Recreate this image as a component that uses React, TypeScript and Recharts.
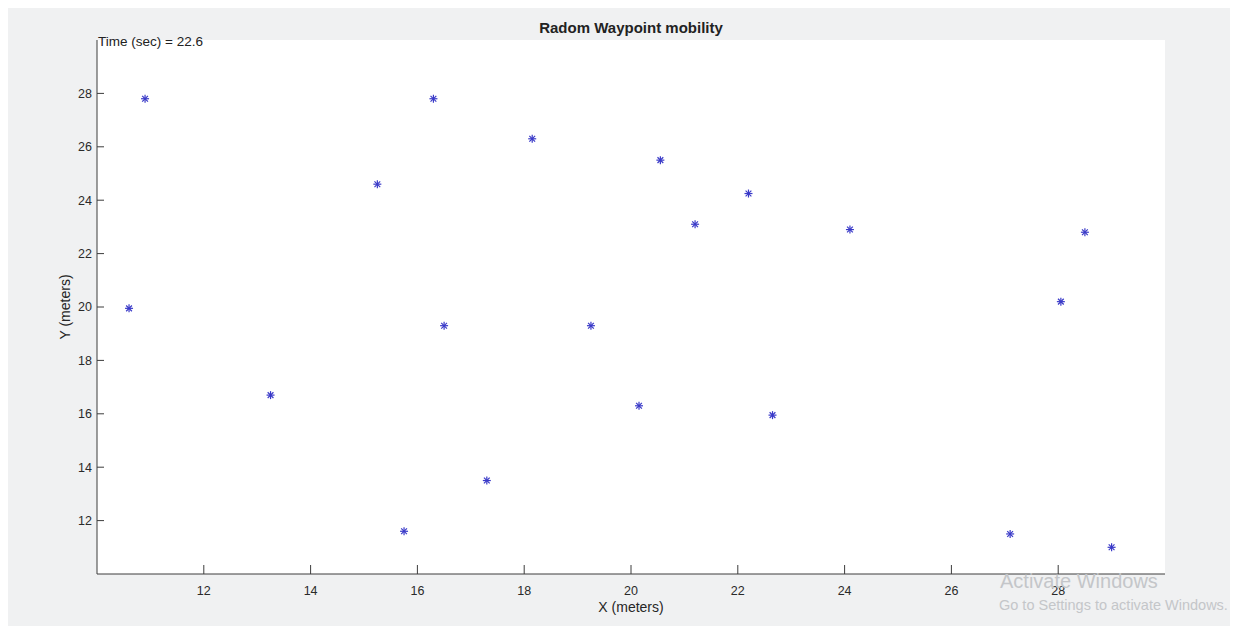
import React from "react";
import { ScatterChart, Scatter, XAxis, YAxis, CartesianGrid } from "recharts";

// node positions (meters)
const xPos = [10.6, 10.9, 13.25, 15.25, 15.75, 16.3, 16.5, 17.3, 18.15, 19.25, 20.15, 20.55, 21.2, 22.2, 22.65, 24.1, 27.1, 28.05, 28.5, 29.0];
const yPos = [19.95, 27.8, 16.7, 24.6, 11.6, 27.8, 19.3, 13.5, 26.3, 19.3, 16.3, 25.5, 23.1, 24.25, 15.95, 22.9, 11.5, 20.2, 22.8, 11.0];
const xTicks = [12, 14, 16, 18, 20, 22, 24, 26, 28];
const yTicks = [12, 14, 16, 18, 20, 22, 24, 26, 28];
const timeSec = 22.6;

const nodes = xPos.map((x, i) => ({ x, y: yPos[i] }));

const font = "'Liberation Sans', Arial, sans-serif";

// matlab style '*' marker
const Star = (props: any) => {
  const { cx, cy } = props;
  const r = 4;
  const d = r * 0.72;
  return (
    <g stroke="#3a3ac8" strokeWidth={1.2}>
      <line x1={cx - r} y1={cy} x2={cx + r} y2={cy} />
      <line x1={cx} y1={cy - r} x2={cx} y2={cy + r} />
      <line x1={cx - d} y1={cy - d} x2={cx + d} y2={cy + d} />
      <line x1={cx - d} y1={cy + d} x2={cx + d} y2={cy - d} />
    </g>
  );
};

const App = () => (
  <div style={{ position: "relative", width: 1240, height: 620, background: "#f0f1f2", fontFamily: font }}>
    <style>{"html, body { overflow: hidden; }"}</style>
    <ScatterChart width={1230} height={610} margin={{ top: 32, right: 73, bottom: 4, left: 39 }}>
      <CartesianGrid horizontal={false} vertical={false} fill="#ffffff" />
      <XAxis
        type="number"
        dataKey="x"
        domain={[10, 30]}
        ticks={xTicks}
        allowDataOverflow
        height={40}
        tickSize={-9}
        tickMargin={21}
        stroke="#3c3c3c"
        tick={{ fill: "#2a2a2a", fontSize: 12.5, fontFamily: font }}
      />
      <YAxis
        type="number"
        dataKey="y"
        domain={[10, 30]}
        ticks={yTicks}
        allowDataOverflow
        width={50}
        tickSize={-7}
        tickMargin={12}
        stroke="#3c3c3c"
        tick={{ fill: "#2a2a2a", fontSize: 12.5, fontFamily: font }}
      />
      <Scatter data={nodes} shape={Star} isAnimationActive={false} />
    </ScatterChart>
    <div style={{ position: "absolute", left: 0, width: 1246, top: 11, textAlign: "center", fontSize: 15, fontWeight: "bold", color: "#222" }}>
      Radom Waypoint mobility
    </div>
    <div style={{ position: "absolute", left: 90, top: 26, fontSize: 13.5, color: "#222" }}>
      Time (sec) = {timeSec}
    </div>
    <div style={{ position: "absolute", left: 0, width: 1246, top: 591, textAlign: "center", fontSize: 14, color: "#262626" }}>
      X (meters)
    </div>
    <div style={{ position: "absolute", left: 57, top: 299, width: 0, height: 0 }}>
      <div style={{ position: "absolute", transform: "translate(-50%, -50%) rotate(-90deg)", whiteSpace: "nowrap", fontSize: 14, color: "#262626" }}>
        Y (meters)
      </div>
    </div>
    <div style={{ position: "absolute", left: 992, top: 562, fontSize: 20, color: "#c4c6c9", whiteSpace: "nowrap" }}>
      Activate Windows
    </div>
    <div style={{ position: "absolute", left: 991, top: 589, fontSize: 14.5, color: "#c4c6c9", whiteSpace: "nowrap" }}>
      Go to Settings to activate Windows.
    </div>
  </div>
);

export default App;
